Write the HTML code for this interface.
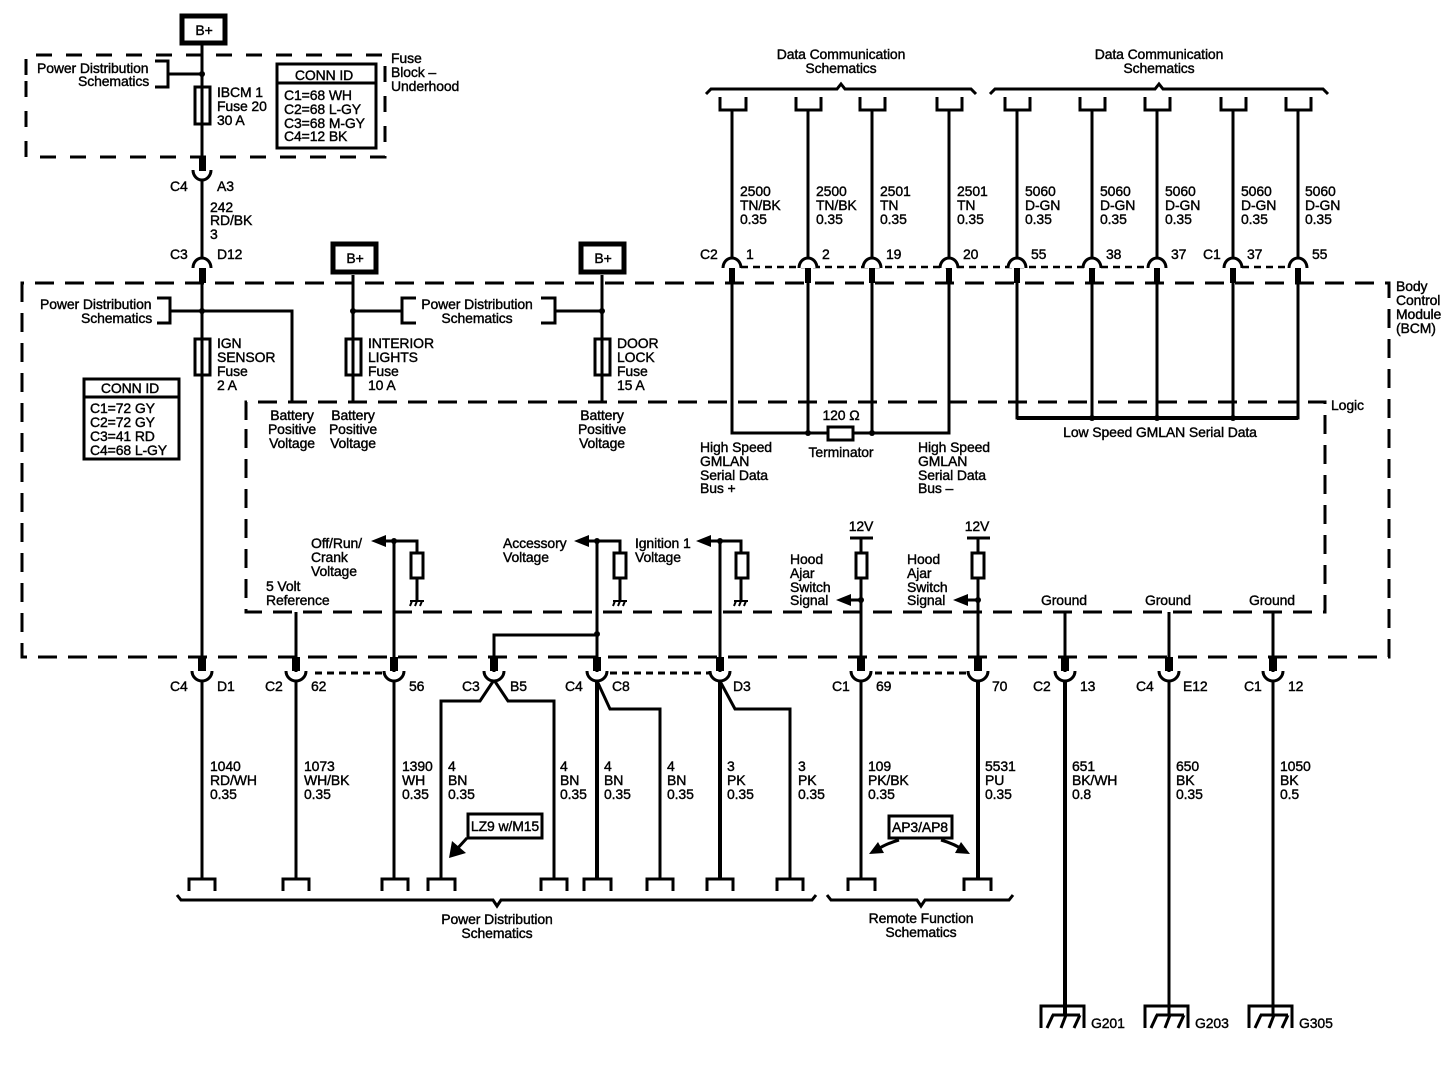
<!DOCTYPE html>
<html><head><meta charset="utf-8"><style>
html,body{margin:0;padding:0;background:#fff;width:1452px;height:1072px;overflow:hidden}
svg{display:block}
text{font-family:"Liberation Sans",sans-serif;font-size:14px;fill:#000;stroke:#000;stroke-width:.4;letter-spacing:-.12px}
.m{text-anchor:middle}
.w{fill:none;stroke:#000;stroke-width:3}
.t{fill:none;stroke:#000;stroke-width:4}
.n{fill:none;stroke:#000;stroke-width:3}
.d{fill:none;stroke:#000;stroke-width:3;stroke-dasharray:19 11}
.o{fill:none;stroke:#000;stroke-width:3;stroke-dasharray:7 5}
.r{fill:#fff;stroke:#000;stroke-width:3}
</style></head><body>
<svg width="1452" height="1072" viewBox="0 0 1452 1072" xmlns="http://www.w3.org/2000/svg">
<!-- dashed enclosures -->
<path class="d" style="stroke-dasharray:16 14" d="M26 75V55H385V157H26V75"/>
<path class="d" d="M22 300V283H1389V657H22V300"/>
<path class="d" d="M246 420V402H1325V612H246V420"/>
<path class="o" d="M315 673H385M610 673H711M875 673H967"/>
<path class="o" style="stroke-width:2.5" d="M741 267H1148M1242 267H1289"/>

<!-- B+ boxes -->
<rect x="182" y="16" width="43" height="27" fill="#fff" stroke="#000" stroke-width="5"/>
<rect x="333" y="244" width="43" height="28" fill="#fff" stroke="#000" stroke-width="5"/>
<rect x="581" y="244" width="43" height="28" fill="#fff" stroke="#000" stroke-width="5"/>
<text class="m" x="204" y="35">B+</text><text class="m" x="355" y="263">B+</text><text class="m" x="603" y="263">B+</text>

<!-- top left wiring -->
<path class="w" d="M202 45V157M155 61H168V87H155M168 74H202M202 180V258"/>
<path d="M199 157h7v14h-7zM199 268h7v15h-7z"/>
<path class="w" d="M193 170a9 10 0 0 0 18 0M193 268a9 10 0 0 1 18 0"/>
<circle cx="202" cy="74" r="3"/>
<rect class="r" x="195" y="87" width="15" height="37"/><path class="w" d="M202 87V124"/>
<rect x="277" y="64" width="99" height="84" fill="#fff" stroke="#000" stroke-width="3"/>
<path class="w" d="M277 83H376"/>
<text class="m" x="324" y="80">CONN ID</text>
<text x="284" y="100">C1=68 WH</text><text x="284" y="114">C2=68 L-GY</text><text x="284" y="128">C3=68 M-GY</text><text x="284" y="141">C4=12 BK</text>
<text x="37" y="73">Power Distribution</text><text x="78" y="86">Schematics</text>
<text x="217" y="97">IBCM 1</text><text x="217" y="111">Fuse 20</text><text x="217" y="125">30 A</text>
<text x="391" y="63">Fuse</text><text x="391" y="77">Block –</text><text x="391" y="91">Underhood</text>
<text x="170" y="191">C4</text><text x="217" y="191">A3</text>
<text x="210" y="212">242</text><text x="210" y="225">RD/BK</text><text x="210" y="239">3</text>
<text x="170" y="259">C3</text><text x="217" y="259">D12</text>

<!-- BCM left -->
<path class="w" d="M202 283V660M157 298H170V323H157M170 311H292V402M353 275V402M353 311H402M416 298H402V323H416M541 298H555V323H541M555 311H602M602 275V402"/>
<circle cx="202" cy="311" r="3"/><circle cx="353" cy="311" r="3"/><circle cx="602" cy="311" r="3"/>
<rect class="r" x="195" y="339" width="15" height="36"/><path class="w" d="M202 339V375"/>
<rect class="r" x="346" y="339" width="15" height="36"/><path class="w" d="M353 339V375"/>
<rect class="r" x="595" y="339" width="15" height="36"/><path class="w" d="M602 339V375"/>
<text x="40" y="309">Power Distribution</text><text x="81" y="323">Schematics</text>
<text class="m" x="477" y="309">Power Distribution</text><text class="m" x="477" y="323">Schematics</text>
<text x="217" y="348">IGN</text><text x="217" y="362">SENSOR</text><text x="217" y="376">Fuse</text><text x="217" y="390">2 A</text>
<text x="368" y="348">INTERIOR</text><text x="368" y="362">LIGHTS</text><text x="368" y="376">Fuse</text><text x="368" y="390">10 A</text>
<text x="617" y="348">DOOR</text><text x="617" y="362">LOCK</text><text x="617" y="376">Fuse</text><text x="617" y="390">15 A</text>
<rect x="84" y="379" width="95" height="80" fill="#fff" stroke="#000" stroke-width="3"/>
<path class="w" d="M84 397H179"/>
<text class="m" x="130" y="393">CONN ID</text>
<text x="90" y="413">C1=72 GY</text><text x="90" y="427">C2=72 GY</text><text x="90" y="441">C3=41 RD</text><text x="90" y="455">C4=68 L-GY</text>
<text class="m" x="292" y="420">Battery</text><text class="m" x="292" y="434">Positive</text><text class="m" x="292" y="448">Voltage</text>
<text class="m" x="353" y="420">Battery</text><text class="m" x="353" y="434">Positive</text><text class="m" x="353" y="448">Voltage</text>
<text class="m" x="602" y="420">Battery</text><text class="m" x="602" y="434">Positive</text><text class="m" x="602" y="448">Voltage</text>

<!-- top right -->
<text class="m" x="841" y="59">Data Communication</text><text class="m" x="841" y="73">Schematics</text>
<text class="m" x="1159" y="59">Data Communication</text><text class="m" x="1159" y="73">Schematics</text>
<path class="n" d="M706 94L711 89H837L841 84L845 89H971L976 94"/>
<path class="n" d="M990 94L995 89H1155L1159 84L1163 89H1323L1328 94"/>
<path class="w" d="M720 97V110H746V97M796 97V110H821V97M860 97V110H885V97M937 97V110H962V97M1005 97V110H1030V97M1080 97V110H1105V97M1145 97V110H1170V97M1221 97V110H1246V97M1286 97V110H1311V97"/>
<path class="w" d="M732 110V433H949V110M808 110V433M872 110V433"/>
<path class="w" d="M1017 110V418H1298V110M1092 110V418M1157 110V418M1233 110V418"/>
<path class="t" d="M1017 418H1298"/>
<path d="M729 268h6v15h-6zM805 268h6v15h-6zM869 268h6v15h-6zM946 268h6v15h-6zM1014 268h6v15h-6zM1089 268h6v15h-6zM1154 268h6v15h-6zM1230 268h6v15h-6zM1295 268h6v15h-6z"/>
<g fill="#fff" stroke="#000" stroke-width="3">
<path d="M723 268a9 10 0 0 1 18 0M799 268a9 10 0 0 1 18 0M863 268a9 10 0 0 1 18 0M940 268a9 10 0 0 1 18 0M1008 268a9 10 0 0 1 18 0M1083 268a9 10 0 0 1 18 0M1148 268a9 10 0 0 1 18 0M1224 268a9 10 0 0 1 18 0M1289 268a9 10 0 0 1 18 0"/>
</g>
<circle cx="808" cy="433" r="3"/><circle cx="872" cy="433" r="3"/>
<circle cx="1092" cy="418" r="3"/><circle cx="1157" cy="418" r="3"/><circle cx="1233" cy="418" r="3"/>
<rect class="r" x="828" y="427" width="25" height="13"/>
<text class="m" x="841" y="420">120 Ω</text><text class="m" x="841" y="457">Terminator</text>
<text class="m" x="1160" y="437">Low Speed GMLAN Serial Data</text>
<text x="700" y="452">High Speed</text><text x="700" y="466">GMLAN</text><text x="700" y="480">Serial Data</text><text x="700" y="493">Bus +</text>
<text x="918" y="452">High Speed</text><text x="918" y="466">GMLAN</text><text x="918" y="480">Serial Data</text><text x="918" y="493">Bus –</text>
<text x="1331" y="410">Logic</text>
<text x="1396" y="291">Body</text><text x="1396" y="305">Control</text><text x="1396" y="319">Module</text><text x="1396" y="333">(BCM)</text>
<text x="740" y="196">2500</text><text x="740" y="210">TN/BK</text><text x="740" y="224">0.35</text>
<text x="816" y="196">2500</text><text x="816" y="210">TN/BK</text><text x="816" y="224">0.35</text>
<text x="880" y="196">2501</text><text x="880" y="210">TN</text><text x="880" y="224">0.35</text>
<text x="957" y="196">2501</text><text x="957" y="210">TN</text><text x="957" y="224">0.35</text>
<text x="1025" y="196">5060</text><text x="1025" y="210">D-GN</text><text x="1025" y="224">0.35</text>
<text x="1100" y="196">5060</text><text x="1100" y="210">D-GN</text><text x="1100" y="224">0.35</text>
<text x="1165" y="196">5060</text><text x="1165" y="210">D-GN</text><text x="1165" y="224">0.35</text>
<text x="1241" y="196">5060</text><text x="1241" y="210">D-GN</text><text x="1241" y="224">0.35</text>
<text x="1305" y="196">5060</text><text x="1305" y="210">D-GN</text><text x="1305" y="224">0.35</text>
<text x="700" y="259">C2</text><text x="746" y="259">1</text><text x="822" y="259">2</text><text x="886" y="259">19</text><text x="963" y="259">20</text><text x="1031" y="259">55</text><text x="1106" y="259">38</text><text x="1171" y="259">37</text><text x="1203" y="259">C1</text><text x="1247" y="259">37</text><text x="1312" y="259">55</text>

<!-- logic lower -->
<path class="w" d="M296 672V612M394 541V672M597 541V672M720 541V672M383 541H417V553M585 541H620V553M708 541H741V553M417 578V600M620 578V600M741 578V600"/>
<path d="M371 541L386 535V547ZM574 541L589 535V547ZM696 541L711 535V547ZM836 600L851 594V606ZM953 600L968 594V606Z"/>
<circle cx="394" cy="541" r="3"/><circle cx="597" cy="541" r="3"/><circle cx="720" cy="541" r="3"/><circle cx="861" cy="600" r="3"/><circle cx="978" cy="600" r="3"/><circle cx="597" cy="634" r="3"/>
<rect class="r" x="411" y="553" width="12" height="25"/><rect class="r" x="614" y="553" width="12" height="25"/><rect class="r" x="736" y="553" width="12" height="25"/>
<path class="w" style="stroke-width:2" d="M410 601H424M410 606L412 601M415 606L417 601M420 606L422 601M613 601H627M613 606L615 601M618 606L620 601M623 606L625 601M734 601H748M734 606L736 601M739 606L741 601M744 606L746 601"/>
<text x="311" y="548">Off/Run/</text><text x="311" y="562">Crank</text><text x="311" y="576">Voltage</text>
<text x="266" y="591">5 Volt</text><text x="266" y="605">Reference</text>
<text x="503" y="548">Accessory</text><text x="503" y="562">Voltage</text>
<text x="635" y="548">Ignition 1</text><text x="635" y="562">Voltage</text>
<path class="w" d="M850 538H873M967 538H990M861 538V660M978 538V660M846 600H861M963 600H978"/>
<rect class="r" x="856" y="553" width="11" height="25"/><rect class="r" x="972" y="553" width="12" height="25"/>
<text class="m" x="861" y="531">12V</text><text class="m" x="977" y="531">12V</text>
<text x="790" y="564">Hood</text><text x="790" y="578">Ajar</text><text x="790" y="592">Switch</text><text x="790" y="605">Signal</text>
<text x="907" y="564">Hood</text><text x="907" y="578">Ajar</text><text x="907" y="592">Switch</text><text x="907" y="605">Signal</text>
<text class="m" x="1064" y="605">Ground</text><text class="m" x="1168" y="605">Ground</text><text class="m" x="1272" y="605">Ground</text>
<path class="w" d="M494 672V635H597"/>
<path class="w" d="M1065 612V672M1169 612V672M1273 612V672"/>

<!-- lower connectors -->
<path d="M198 657h8v14h-8zM292 657h8v14h-8zM390 657h8v14h-8zM490 657h8v14h-8zM593 657h8v14h-8zM716 657h8v14h-8zM857 657h8v14h-8zM974 657h8v14h-8zM1061 657h8v14h-8zM1165 657h8v14h-8zM1269 657h8v14h-8z"/>
<path class="w" d="M192 671a10 10 0 0 0 20 0M286 671a10 10 0 0 0 20 0M384 671a10 10 0 0 0 20 0M484 671a10 10 0 0 0 20 0M587 671a10 10 0 0 0 20 0M710 671a10 10 0 0 0 20 0M851 671a10 10 0 0 0 20 0M968 671a10 10 0 0 0 20 0M1055 671a10 10 0 0 0 20 0M1159 671a10 10 0 0 0 20 0M1263 671a10 10 0 0 0 20 0"/>
<path class="w" d="M202 680V879M296 680V879M394 680V879M861 680V879M1169 680V1015M1273 680V1015"/>
<path class="t" d="M978 680V879M597 680V879M720 680V879M1065 680V1015"/>
<path class="w" d="M494 680L480 701H441V879M494 680L508 701H554V879M598 683L610 709H660V879M721 683L735 709H790V879"/>
<text x="170" y="691">C4</text><text x="217" y="691">D1</text><text x="265" y="691">C2</text><text x="311" y="691">62</text><text x="409" y="691">56</text><text x="462" y="691">C3</text><text x="510" y="691">B5</text><text x="565" y="691">C4</text><text x="612" y="691">C8</text><text x="733" y="691">D3</text><text x="832" y="691">C1</text><text x="876" y="691">69</text><text x="992" y="691">70</text><text x="1033" y="691">C2</text><text x="1080" y="691">13</text><text x="1136" y="691">C4</text><text x="1183" y="691">E12</text><text x="1244" y="691">C1</text><text x="1288" y="691">12</text>
<text x="210" y="771">1040</text><text x="210" y="785">RD/WH</text><text x="210" y="799">0.35</text>
<text x="304" y="771">1073</text><text x="304" y="785">WH/BK</text><text x="304" y="799">0.35</text>
<text x="402" y="771">1390</text><text x="402" y="785">WH</text><text x="402" y="799">0.35</text>
<text x="448" y="771">4</text><text x="448" y="785">BN</text><text x="448" y="799">0.35</text>
<text x="560" y="771">4</text><text x="560" y="785">BN</text><text x="560" y="799">0.35</text>
<text x="604" y="771">4</text><text x="604" y="785">BN</text><text x="604" y="799">0.35</text>
<text x="667" y="771">4</text><text x="667" y="785">BN</text><text x="667" y="799">0.35</text>
<text x="727" y="771">3</text><text x="727" y="785">PK</text><text x="727" y="799">0.35</text>
<text x="798" y="771">3</text><text x="798" y="785">PK</text><text x="798" y="799">0.35</text>
<text x="868" y="771">109</text><text x="868" y="785">PK/BK</text><text x="868" y="799">0.35</text>
<text x="985" y="771">5531</text><text x="985" y="785">PU</text><text x="985" y="799">0.35</text>
<text x="1072" y="771">651</text><text x="1072" y="785">BK/WH</text><text x="1072" y="799">0.8</text>
<text x="1176" y="771">650</text><text x="1176" y="785">BK</text><text x="1176" y="799">0.35</text>
<text x="1280" y="771">1050</text><text x="1280" y="785">BK</text><text x="1280" y="799">0.5</text>

<!-- option boxes -->
<path class="w" d="M467 838L456 850"/><path d="M449 858L452 841L466 853Z"/>
<rect x="468" y="814" width="74" height="24" fill="#fff" stroke="#000" stroke-width="3"/>
<text class="m" x="505" y="831">LZ9 w/M15</text>
<path class="w" d="M899 840Q885 844 875 851M941 840Q955 844 965 851"/>
<path d="M869 854L878 842L884 853ZM970 854L961 842L955 853Z"/>
<rect x="889" y="816" width="63" height="22" fill="#fff" stroke="#000" stroke-width="3"/>
<text class="m" x="920" y="832">AP3/AP8</text>

<!-- bottom bracket connectors -->
<path class="w" d="M189 891V879H215V891M283 891V879H309V891M382 891V879H408V891M428 891V879H455V891M541 891V879H567V891M584 891V879H611V891M647 891V879H673V891M707 891V879H733V891M777 891V879H803V891M848 891V879H875V891M964 891V879H991V891"/>
<path class="n" d="M177 895L181 900H493L497 906L501 900H812L816 895"/>
<path class="n" d="M827 895L831 900H917L921 906L925 900H1009L1013 895"/>
<text class="m" x="497" y="924">Power Distribution</text><text class="m" x="497" y="938">Schematics</text>
<text class="m" x="921" y="923">Remote Function</text><text class="m" x="921" y="937">Schematics</text>

<!-- grounds -->
<path class="w" d="M1041 1028V1006H1084V1028M1145 1028V1006H1188V1028M1249 1028V1006H1292V1028"/>
<path class="w" d="M1052 1015H1080M1053 1015L1047 1028M1066 1015L1061 1028M1080 1015L1074 1028M1156 1015H1184M1157 1015L1151 1028M1170 1015L1165 1028M1184 1015L1178 1028M1260 1015H1288M1261 1015L1255 1028M1274 1015L1269 1028M1288 1015L1282 1028"/>
<text x="1091" y="1028">G201</text><text x="1195" y="1028">G203</text><text x="1299" y="1028">G305</text>
</svg>
</body></html>
